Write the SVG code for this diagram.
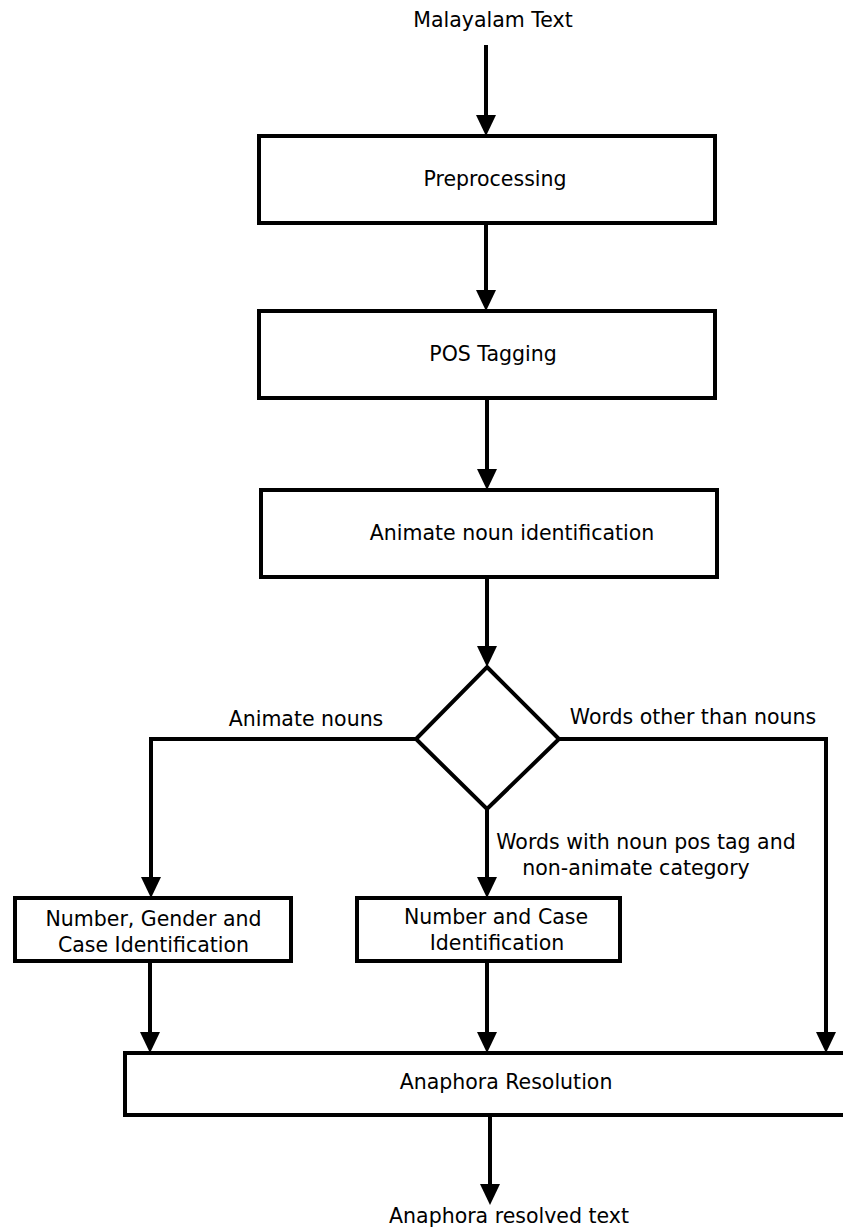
<svg xmlns="http://www.w3.org/2000/svg" width="843" height="1230" viewBox="0 0 843 1230">
<style>
text{font-family:"DejaVu Sans",sans-serif;font-size:20.5px;fill:#000;text-anchor:middle}
.box{fill:#fff;stroke:#000;stroke-width:4}
.c{fill:none;stroke:#000;stroke-width:4}
</style>
<defs>
<marker id="ah" markerUnits="userSpaceOnUse" markerWidth="22" markerHeight="22" refX="1" refY="10" orient="auto" viewBox="0 0 22 22">
<path d="M0,0 L21,10 L0,20 z" fill="#000"/>
</marker>
</defs>
<rect width="843" height="1230" fill="#fff"/>
<g id="connectors">
<line class="c" x1="486" y1="45" x2="486" y2="116" marker-end="url(#ah)"/>
<line class="c" x1="486" y1="223" x2="486" y2="291" marker-end="url(#ah)"/>
<line class="c" x1="487" y1="398" x2="487" y2="470" marker-end="url(#ah)"/>
<line class="c" x1="487" y1="577" x2="487" y2="647" marker-end="url(#ah)"/>
<polyline class="c" points="416,739 151,739 151,878" marker-end="url(#ah)"/>
<polyline class="c" points="559,739 826,739 826,1033" marker-end="url(#ah)"/>
<line class="c" x1="487" y1="809" x2="487" y2="878" marker-end="url(#ah)"/>
<line class="c" x1="150" y1="961" x2="150" y2="1033" marker-end="url(#ah)"/>
<line class="c" x1="487" y1="961" x2="487" y2="1033" marker-end="url(#ah)"/>
<line class="c" x1="490" y1="1115" x2="490" y2="1185" marker-end="url(#ah)"/>
<text x="306" y="726">Animate nouns</text>
<text x="693" y="724">Words other than nouns</text>
<text x="646" y="849">Words with noun pos tag and</text>
<text x="636" y="875">non-animate category</text>
</g>
<g id="input"><text x="493" y="27">Malayalam Text</text></g>
<g id="preprocessing"><rect class="box" x="259" y="136" width="456" height="87"/><text x="495" y="186">Preprocessing</text></g>
<g id="pos"><rect class="box" x="259" y="311" width="456" height="87"/><text x="493" y="361">POS Tagging</text></g>
<g id="animate"><rect class="box" x="261" y="490" width="456" height="87"/><text x="512" y="540">Animate noun identification</text></g>
<g id="decision"><polygon class="box" points="487,667 559,739 487,809 416,739"/></g>
<g id="ngc"><rect class="box" x="15" y="898" width="276" height="63"/><text x="153.5" y="926">Number, Gender and</text><text x="153.5" y="952">Case Identification</text></g>
<g id="nc"><rect class="box" x="357" y="898" width="263" height="63"/><text x="496" y="924">Number and Case</text><text x="497" y="950">Identification</text></g>
<g id="resolution"><rect class="box" x="125" y="1053" width="730" height="62"/><text x="506" y="1089">Anaphora Resolution</text></g>
<g id="output"><text x="509" y="1223">Anaphora resolved text</text></g>
</svg>
